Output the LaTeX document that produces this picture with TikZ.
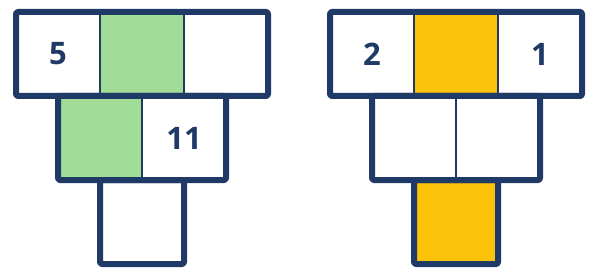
\documentclass[tikz,border=0pt]{standalone}
\usepackage{fontspec}
\setmainfont{Open Sans}
\usetikzlibrary{positioning}
\definecolor{framenavy}{RGB}{31,58,102}
\definecolor{cellgreen}{RGB}{161,221,150}
\definecolor{cellyellow}{RGB}{252,195,10}
\tikzset{
  cell/.style={rectangle, draw=framenavy, line width=1.5pt, fill=white,
               minimum size=84pt, inner sep=0pt, outer sep=0pt,
               font=\fontsize{31}{31}\selectfont\bfseries, text=framenavy},
  greencell/.style={cell, fill=cellgreen},
  yellowcell/.style={cell, fill=cellyellow},
  rowframe/.style={draw=framenavy, line width=6pt, line join=round, rounded corners=1.5pt}
}
\begin{document}
\begin{tikzpicture}
        \useasboundingbox (0,0) rectangle (593pt,-275pt);
        % left pyramid
        \node[cell] (a1) at (58pt,-54pt) {5};
        \node[greencell, right=0pt of a1] (a2) {};
        \node[cell, right=0pt of a2] (a3) {};
        \node[greencell, below=0pt of a1.south east] (b1) {};
        \node[cell, right=0pt of b1] (b2) {11};
        \node[cell, below=0pt of b1.south east] (c1) {};
        \draw[rowframe] (a1.north west) rectangle (a3.south east);
        \draw[rowframe] (b1.north west) rectangle (b2.south east);
        \draw[rowframe] (c1.north west) rectangle (c1.south east);
        % right pyramid
        \node[cell, right=62pt of a3] (r1) {2};
        \node[yellowcell, right=0pt of r1] (r2) {};
        \node[cell, right=0pt of r2] (r3) {1};
        \node[cell, below=0pt of r1.south east] (s1) {};
        \node[cell, right=0pt of s1] (s2) {};
        \node[yellowcell, below=0pt of s1.south east] (t1) {};
        \draw[rowframe] (r1.north west) rectangle (r3.south east);
        \draw[rowframe] (s1.north west) rectangle (s2.south east);
        \draw[rowframe] (t1.north west) rectangle (t1.south east);
\end{tikzpicture}
\end{document}
